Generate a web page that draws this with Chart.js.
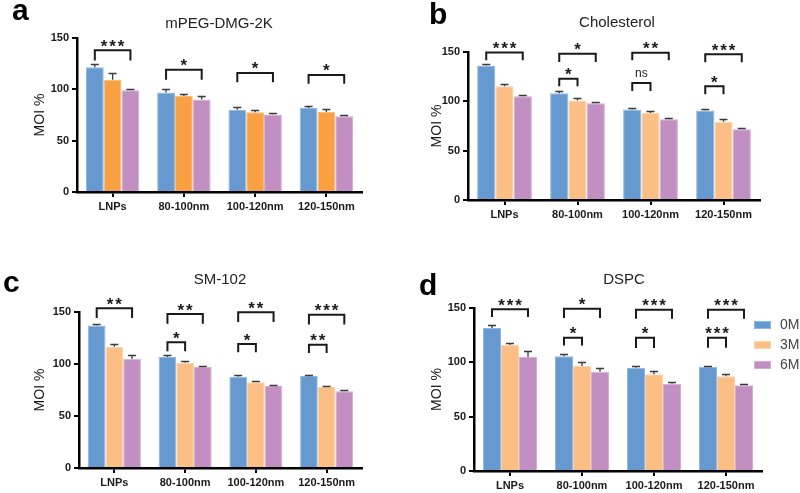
<!DOCTYPE html>
<html><head><meta charset="utf-8">
<script src="https://cdn.jsdelivr.net/npm/chart.js@4.4.0/dist/chart.umd.min.js"></script>
<style>
body{margin:0;background:#fff;width:800px;height:493px;overflow:hidden;position:relative;font-family:"Liberation Sans",Arial,sans-serif}
canvas{position:absolute;left:0;top:0}
.lab{position:absolute;font-weight:bold;font-size:30px;color:#000;line-height:1}
.ttl{position:absolute;font-size:15px;color:#222;white-space:nowrap;line-height:1;transform:translateX(-50%)}
.leg{position:absolute;font-size:14px;color:#444;line-height:1}
.box{position:absolute;width:17px;height:8px}
</style></head><body>
<script>
// ---------------- DATA ----------------
const categories = ['LNPs', '80-100nm', '100-120nm', '120-150nm'];
const seriesNames = ['0M', '3M', '6M'];
const yTicks = [0, 50, 100, 150];
const panelTitles = ['mPEG-DMG-2K', 'Cholesterol', 'SM-102', 'DSPC'];
const panelLetters = ['a', 'b', 'c', 'd'];

// a: mPEG-DMG-2K
const a_0M = [121.4, 97.0, 80.2, 81.8];
const a_3M = [109.4, 93.5, 77.6, 77.9];
const a_6M = [99.0, 90.0, 75.6, 73.7];
const a_0M_sd = [3.6, 3.0, 2.3, 2.0];
const a_3M_sd = [6.8, 2.0, 2.3, 2.6];
const a_6M_sd = [1.6, 3.8, 1.7, 1.6];
// [category, fromSeries, toSeries, bracketTop, bracketLeg, label]
const a_sig = [[0,0,2,138,128,'***'],[1,0,2,119,109.4,'*'],[2,0,2,116,107,'*'],[3,0,2,114,105.5,'*']];

// b: Cholesterol
const b_0M = [136.2, 108.2, 91.7, 90.7];
const b_3M = [115.3, 100.8, 88.3, 79.2];
const b_6M = [105.2, 98.1, 81.9, 71.8];
const b_0M_sd = [2.0, 2.3, 1.7, 1.6];
const b_3M_sd = [2.3, 2.3, 2.4, 2.4];
const b_6M_sd = [1.3, 1.3, 1.3, 1.3];
const b_sig = [[0,0,2,149.6,141.6,'***'],[1,0,2,148.3,139.9,'*'],[1,0,1,123,115.3,'*'],[2,0,2,149.3,141.6,'**'],[2,0,1,118.6,110.5,'ns'],[3,0,2,147.6,139.5,'***'],[3,0,1,115.3,107.2,'*']];

// c: SM-102
const c_0M = [136.9, 106.7, 87.8, 88.5];
const c_3M = [116.7, 101.3, 82.4, 77.9];
const c_6M = [105.1, 97.4, 78.8, 73.7];
const c_0M_sd = [1.9, 2.3, 1.9, 0.6];
const c_3M_sd = [2.5, 1.6, 1.6, 0.9];
const c_6M_sd = [3.6, 1.0, 1.3, 1.0];
const c_sig = [[0,0,2,153.5,144.2,'**'],[1,0,2,148,138.8,'**'],[1,0,1,120.8,112.2,'*'],[2,0,2,149.7,140.4,'**'],[2,0,1,119.2,111.2,'*'],[3,0,2,147.4,138.1,'***'],[3,0,1,118.6,110.6,'**']];

// d: DSPC
const d_0M = [131.6, 105.5, 95.1, 96.0];
const d_3M = [116.0, 96.6, 89.0, 87.1];
const d_6M = [104.9, 91.4, 80.4, 78.8];
const d_0M_sd = [3.1, 2.2, 1.5, 0.6];
const d_3M_sd = [2.1, 3.4, 3.0, 1.9];
const d_6M_sd = [5.8, 3.1, 1.2, 1.0];
const d_sig = [[0,0,2,148.8,141.7,'***'],[1,0,2,149.4,140.8,'*'],[1,0,1,122.7,115.6,'*'],[2,0,2,148.5,140.2,'***'],[2,0,1,122.7,113.2,'*'],[3,0,2,148.5,140.2,'***'],[3,0,1,122.7,113.5,'***']];

// ---------------- STYLE / LAYOUT ----------------
const FONT = '"Liberation Sans", Arial, sans-serif';
const BLUE = '#6699cf', ORANGE_A = '#f9a043', ORANGE = '#fbbe84', PURPLE = '#c18fc1';
const BLUE_E = '#8fb7e3', ORANGE_A_E = '#fbbb78', ORANGE_E = '#fdd3ab', PURPLE_E = '#d4acd4';

const panels = [
  {area:[77,38,362,192], yTitleX:40, series:[a_0M,a_3M,a_6M], sd:[a_0M_sd,a_3M_sd,a_6M_sd], sig:a_sig,
   colors:[BLUE,ORANGE_A,PURPLE], edges:[BLUE_E,ORANGE_A_E,PURPLE_E], title:[219,28], letter:[12,20]},
  {area:[468,52,760,200], yTitleX:437, series:[b_0M,b_3M,b_6M], sd:[b_0M_sd,b_3M_sd,b_6M_sd], sig:b_sig,
   colors:[BLUE,ORANGE,PURPLE], edges:[BLUE_E,ORANGE_E,PURPLE_E], title:[617,27], letter:[429,24]},
  {area:[79,312,362,468], yTitleX:40, series:[c_0M,c_3M,c_6M], sd:[c_0M_sd,c_3M_sd,c_6M_sd], sig:c_sig,
   colors:[BLUE,ORANGE,PURPLE], edges:[BLUE_E,ORANGE_E,PURPLE_E], title:[220,284], letter:[3,292]},
  {area:[474,308,762,471], yTitleX:437, series:[d_0M,d_3M,d_6M], sd:[d_0M_sd,d_3M_sd,d_6M_sd], sig:d_sig,
   colors:[BLUE,ORANGE,PURPLE], edges:[BLUE_E,ORANGE_E,PURPLE_E], title:[624,284], letter:[419,295]}
];

function makeAnnot(sig, sds){
  return {
    id:'annot',
    afterDatasetsDraw(chart){
      const ctx = chart.ctx, y = chart.scales.y;
      ctx.save();
      // error bars (upper only)
      chart.data.datasets.forEach((ds, si) => {
        const meta = chart.getDatasetMeta(si);
        meta.data.forEach((bar, i) => {
          const top = Math.round(y.getPixelForValue(ds.data[i] + sds[si][i])) + 0.5;
          ctx.strokeStyle = '#3a3a3a'; ctx.lineWidth = 1.3;
          ctx.beginPath();
          ctx.moveTo(bar.x, bar.y); ctx.lineTo(bar.x, top);
          ctx.moveTo(bar.x - 4, top); ctx.lineTo(bar.x + 4, top);
          ctx.stroke();
        });
      });
      // significance brackets
      sig.forEach(([ci, s1, s2, topV, legV, label]) => {
        const x1 = chart.getDatasetMeta(s1).data[ci].x;
        const x2 = chart.getDatasetMeta(s2).data[ci].x;
        const yt = y.getPixelForValue(topV), yl = y.getPixelForValue(legV);
        ctx.strokeStyle = '#1a1a1a'; ctx.lineWidth = 2; ctx.lineJoin = 'miter';
        ctx.beginPath();
        ctx.moveTo(x1, yl); ctx.lineTo(x1, yt); ctx.lineTo(x2, yt); ctx.lineTo(x2, yl);
        ctx.stroke();
        const xm = (x1 + x2) / 2;
        ctx.fillStyle = '#1a1a1a';
        ctx.textAlign = 'center'; ctx.textBaseline = 'alphabetic';
        if (label === 'ns') {
          ctx.font = '12px ' + FONT;
          ctx.fillText('ns', xm, yt - 6);
        } else {
          ctx.font = 'bold 17px ' + FONT;
          const n = label.length, gap = 8.5;
          for (let k = 0; k < n; k++) {
            ctx.fillText('*', xm + (k - (n - 1) / 2) * gap, yt + 1.5);
          }
        }
      });
      ctx.restore();
    }
  };
}

panels.forEach((p, pi) => {
  const cv = document.createElement('canvas');
  cv.width = 800; cv.height = 493;
  document.body.appendChild(cv);
  const [L, T, R, B] = p.area;
  const yW = L - p.yTitleX + 12.4;
  const xH = 30;
  new Chart(cv, {
    type: 'bar',
    data: {
      labels: categories,
      datasets: seriesNames.map((n, si) => ({
        label: n, data: p.series[si],
        backgroundColor: p.colors[si], borderColor: p.edges[si], borderWidth: 1,
        categoryPercentage: 0.75, barPercentage: 1.0
      }))
    },
    options: {
      responsive: false, animation: false, devicePixelRatio: 1,
      layout: { padding: { left: p.yTitleX - 12.4, top: T, right: 800 - R, bottom: 493 - B - xH } },
      plugins: { legend: { display: false }, tooltip: { enabled: false } },
      scales: {
        x: {
          afterFit: (s) => { s.height = xH; },
          grid: { display: true, drawOnChartArea: false, drawTicks: true, offset: false, tickLength: 5, color: '#000', lineWidth: 2 },
          border: { display: true, color: '#000', width: 2.5 },
          ticks: { color: '#1a1a1a', font: { family: FONT, size: 11, weight: 'bold' }, padding: 3, maxRotation: 0 }
        },
        y: {
          min: 0, max: 150,
          afterFit: (s) => { s.width = yW; },
          afterBuildTicks: (s) => { s.ticks = yTicks.map(v => ({ value: v })); },
          grid: { display: true, drawOnChartArea: false, drawTicks: true, tickLength: 5, color: '#000', lineWidth: 2 },
          border: { display: true, color: '#000', width: 2.5 },
          ticks: { color: '#1a1a1a', font: { family: FONT, size: 11, weight: 'bold' }, padding: 3 },
          title: { display: true, text: 'MOI %', color: '#1a1a1a', font: { family: FONT, size: 14 } }
        }
      }
    },
    plugins: [makeAnnot(p.sig, p.sd)]
  });
  const t = document.createElement('div');
  t.className = 'ttl'; t.textContent = panelTitles[pi];
  t.style.left = p.title[0] + 'px'; t.style.top = (p.title[1] - 0.8465 * 15) + 'px';
  document.body.appendChild(t);
  const l = document.createElement('div');
  l.className = 'lab'; l.textContent = panelLetters[pi];
  l.style.left = p.letter[0] + 'px'; l.style.top = (p.letter[1] - 0.8465 * 30) + 'px';
  document.body.appendChild(l);
});

// legend (panel d)
const legColors = [BLUE, ORANGE, PURPLE];
const legEdges = [BLUE_E, ORANGE_E, PURPLE_E];
seriesNames.forEach((n, i) => {
  const base = 329 + i * 20;
  const b = document.createElement('div');
  b.className = 'box';
  b.style.left = '754px'; b.style.top = (base - 8.5) + 'px';
  b.style.background = legColors[i]; b.style.boxShadow = 'inset 0 0 0 1px ' + legEdges[i];
  document.body.appendChild(b);
  const tx = document.createElement('div');
  tx.className = 'leg'; tx.textContent = n;
  tx.style.left = '780px'; tx.style.top = (base - 0.8465 * 14) + 'px';
  document.body.appendChild(tx);
});
</script>
</body></html>
